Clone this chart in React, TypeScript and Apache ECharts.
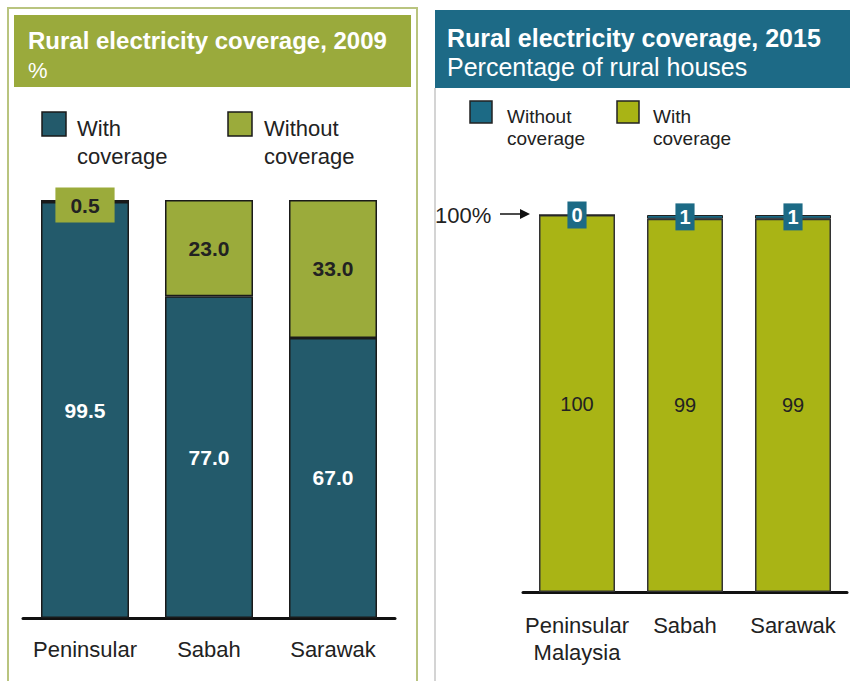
import React, { useEffect, useRef } from "react";
import * as echarts from "echarts";

const categories2009 = ["Peninsular", "Sabah", "Sarawak"];
const withCoverage2009 = [99.5, 77.0, 67.0];
const withoutCoverage2009 = [0.5, 23.0, 33.0];

const categories2015 = ["Peninsular\nMalaysia", "Sabah", "Sarawak"];
const withCoverage2015 = [100, 99, 99];
const withoutCoverage2015 = [0, 1, 1];

const title2009 = "Rural electricity coverage, 2009";
const subtitle2009 = "%";
const title2015 = "Rural electricity coverage, 2015";
const subtitle2015 = "Percentage of rural houses";

const TEAL1 = "#235a6b";
const OLIVE1 = "#9bab3b";
const TEAL2 = "#1c6a85";
const OLIVE2 = "#a9b415";
const HEADER1 = "#9aaa3c";
const HEADER2 = "#1d6a86";
const FONT = "Liberation Sans, Arial, sans-serif";
const DARK = "#222";

export default function App() {
  const ref = useRef<HTMLDivElement>(null);
  useEffect(() => {
    if (!ref.current) return;
    const chart = echarts.init(ref.current, null, { renderer: "svg" });
    const option: any = {
      animation: false,
      backgroundColor: "#fff",
      textStyle: { fontFamily: FONT },
      grid: [
        { left: 23, top: 200, width: 372, height: 418 },
        { left: 523, top: 215, width: 324, height: 377 },
      ],
      xAxis: [
        {
          type: "category",
          gridIndex: 0,
          data: categories2009,
          axisLine: { lineStyle: { color: "#111", width: 3 } },
          axisTick: { show: false },
          axisLabel: { interval: 0, fontSize: 22, color: DARK, margin: 20, fontFamily: FONT },
        },
        {
          type: "category",
          gridIndex: 1,
          data: categories2015,
          axisLine: { lineStyle: { color: "#111", width: 3 } },
          axisTick: { show: false },
          axisLabel: { interval: 0, fontSize: 22, color: DARK, margin: 20, lineHeight: 27, fontFamily: FONT },
        },
      ],
      yAxis: [
        { type: "value", gridIndex: 0, min: 0, max: 100, show: false },
        { type: "value", gridIndex: 1, min: 0, max: 100, show: false },
      ],
      series: [
        {
          type: "bar",
          name: "With coverage",
          xAxisIndex: 0,
          yAxisIndex: 0,
          stack: "y2009",
          barWidth: 88,
          data: withCoverage2009,
          itemStyle: { color: TEAL1, borderColor: "#1a1a1a", borderWidth: 1.5 },
          label: {
            show: true,
            position: "inside",
            color: "#fff",
            fontWeight: "bold",
            fontSize: 21,
            fontFamily: FONT,
            formatter: (p: any) => Number(p.value).toFixed(1),
          },
        },
        {
          type: "bar",
          name: "Without coverage",
          xAxisIndex: 0,
          yAxisIndex: 0,
          stack: "y2009",
          barWidth: 88,
          data: withoutCoverage2009.map((v, i) =>
            i === 0
              ? {
                  value: v,
                  label: {
                    backgroundColor: OLIVE1,
                    padding: [7, 15, 7, 15],
                    offset: [0, 4],
                  },
                }
              : v
          ),
          itemStyle: { color: OLIVE1, borderColor: "#1a1a1a", borderWidth: 1.5 },
          label: {
            show: true,
            position: "inside",
            color: DARK,
            fontWeight: "bold",
            fontSize: 21,
            fontFamily: FONT,
            formatter: (p: any) => Number(p.value).toFixed(1),
          },
        },
        {
          type: "bar",
          name: "With coverage 2015",
          xAxisIndex: 1,
          yAxisIndex: 1,
          stack: "y2015",
          barWidth: 76,
          data: withCoverage2015,
          itemStyle: { color: OLIVE2, borderColor: "#333", borderWidth: 1.5 },
          label: {
            show: true,
            position: "inside",
            color: DARK,
            fontSize: 20,
            fontFamily: FONT,
            formatter: (p: any) => String(p.value),
          },
        },
        {
          type: "bar",
          name: "Without coverage 2015",
          xAxisIndex: 1,
          yAxisIndex: 1,
          stack: "y2015",
          barWidth: 76,
          data: withoutCoverage2015,
          itemStyle: { color: TEAL2, borderColor: "#222", borderWidth: 1 },
          label: {
            show: true,
            position: "inside",
            color: "#fff",
            fontWeight: "bold",
            fontSize: 20,
            fontFamily: FONT,
            backgroundColor: TEAL2,
            padding: [4, 4, 3, 4],
            formatter: (p: any) => String(p.value),
          },
        },
      ],
      graphic: [
        {
          type: "rect",
          shape: { x: 8, y: 8, width: 409, height: 690 },
          style: { fill: "none", stroke: "#b9c47f", lineWidth: 2 },
          silent: true,
        },
        {
          type: "rect",
          shape: { x: 14, y: 15, width: 397, height: 72 },
          style: { fill: HEADER1 },
          silent: true,
        },
        {
          type: "text",
          x: 28,
          y: 40,
          style: {
            text: title2009,
            fill: "#fff",
            font: `bold 24px ${FONT}`,
            verticalAlign: "middle",
          },
        },
        {
          type: "text",
          x: 28,
          y: 70,
          style: {
            text: subtitle2009,
            fill: "#fff",
            font: `22px ${FONT}`,
            verticalAlign: "middle",
          },
        },
        {
          type: "rect",
          shape: { x: 435, y: 10, width: 415, height: 78 },
          style: { fill: HEADER2 },
          silent: true,
        },
        {
          type: "line",
          shape: { x1: 435, y1: 88, x2: 435, y2: 690 },
          style: { stroke: "#d4d4d4", lineWidth: 2 },
          silent: true,
        },
        {
          type: "text",
          x: 447,
          y: 38,
          style: {
            text: title2015,
            fill: "#fff",
            font: `bold 25px ${FONT}`,
            verticalAlign: "middle",
          },
        },
        {
          type: "text",
          x: 447,
          y: 67,
          style: {
            text: subtitle2015,
            fill: "#fff",
            font: `25px ${FONT}`,
            verticalAlign: "middle",
          },
        },
        // legend 2009
        {
          type: "rect",
          shape: { x: 42, y: 112, width: 24, height: 24 },
          style: { fill: TEAL1, stroke: "#1a1a1a", lineWidth: 1.5 },
        },
        {
          type: "text",
          x: 77,
          y: 114,
          style: {
            text: "With\ncoverage",
            fill: DARK,
            font: `22px ${FONT}`,
            lineHeight: 28,
            verticalAlign: "top",
          },
        },
        {
          type: "rect",
          shape: { x: 228, y: 112, width: 24, height: 24 },
          style: { fill: OLIVE1, stroke: "#1a1a1a", lineWidth: 1.5 },
        },
        {
          type: "text",
          x: 264,
          y: 114,
          style: {
            text: "Without\ncoverage",
            fill: DARK,
            font: `22px ${FONT}`,
            lineHeight: 28,
            verticalAlign: "top",
          },
        },
        // legend 2015
        {
          type: "rect",
          shape: { x: 470, y: 101, width: 22, height: 22 },
          style: { fill: TEAL2, stroke: "#222", lineWidth: 1.5 },
        },
        {
          type: "text",
          x: 507,
          y: 105,
          style: {
            text: "Without\ncoverage",
            fill: DARK,
            font: `19px ${FONT}`,
            lineHeight: 22,
            verticalAlign: "top",
          },
        },
        {
          type: "rect",
          shape: { x: 617, y: 101, width: 22, height: 22 },
          style: { fill: OLIVE2, stroke: "#222", lineWidth: 1.5 },
        },
        {
          type: "text",
          x: 653,
          y: 105,
          style: {
            text: "With\ncoverage",
            fill: DARK,
            font: `19px ${FONT}`,
            lineHeight: 22,
            verticalAlign: "top",
          },
        },
        // 100% annotation
        {
          type: "text",
          x: 435,
          y: 215,
          style: {
            text: "100%",
            fill: DARK,
            font: `22px ${FONT}`,
            verticalAlign: "middle",
          },
        },
        {
          type: "line",
          shape: { x1: 500, y1: 214, x2: 522, y2: 214 },
          style: { stroke: "#111", lineWidth: 1.5 },
        },
        {
          type: "polygon",
          shape: { points: [[530, 214], [520, 209], [520, 219]] },
          style: { fill: "#111" },
        },
      ],
    };
    chart.setOption(option);
    return () => chart.dispose();
  }, []);
  return (
    <div
      ref={ref}
      style={{ position: "fixed", left: 0, top: 0, width: 850, height: 681, background: "#fff" }}
    />
  );
}
